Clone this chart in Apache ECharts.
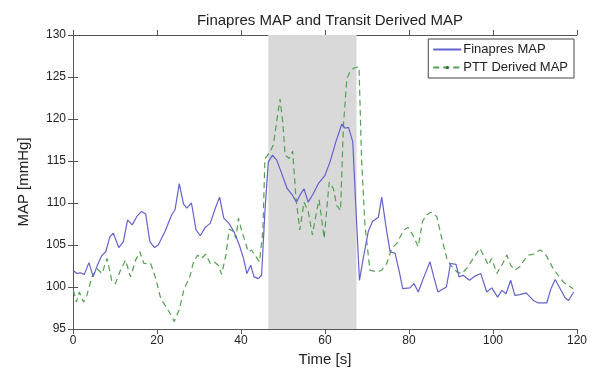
<!DOCTYPE html>
<html>
<head>
<meta charset="UTF-8">
<script src="https://cdn.jsdelivr.net/npm/echarts@6/dist/echarts.min.js"></script>
<title>Finapres MAP and Transit Derived MAP</title>
<style>
  html, body { margin: 0; padding: 0; background: #fff; }
  #main { width: 593px; height: 374px; }
</style>
</head>
<body>
<div id="main"></div>
<script type="text/javascript">
    // Finapres MAP (blue, solid) - time [s] / value [mmHg]
    var finTime = [0, 0.9, 1.7, 2.7, 3.8, 4.8, 5.8, 6.8, 7.8, 8.8, 9.6, 10.9, 12.0, 13.0, 14.1, 15.2, 16.3, 17.3, 18.3, 19.4,
        20.3, 21.9, 23.5, 24.3, 25.3, 26.3, 27.1, 28.2, 29.3, 30.3, 31.5, 32.7, 33.9, 34.9, 35.9, 37.1, 38.3, 39.6, 40.6, 41.4,
        42.3, 43.1, 44.1, 44.9, 45.7, 46.5, 47.5, 48.5, 49.7, 51.0, 52.3, 53.2, 54.0, 55.0, 56.0, 57.2, 58.4, 60.0, 61.2, 62.6,
        64.0, 64.8, 65.6, 66.6, 67.4, 68.2, 69.1, 70.3, 71.3, 72.7, 73.5, 74.7, 75.5, 76.7, 77.7, 78.5, 80.2, 81.2, 82.2, 83.4,
        85.0, 85.9, 86.9, 88.9, 89.9, 91.2, 91.9, 92.9, 94.4, 95.7, 97.1, 98.5, 99.7, 101.1, 102.1, 103.1, 104.2, 105.2, 106.4, 107.9,
        109.6, 110.8, 112.8, 113.8, 114.8, 116.0, 117.2, 118.0, 119.2];
    var finMap = [102.0, 101.6, 101.7, 101.5, 102.9, 101.2, 102.6, 103.7, 104.2, 106.0, 106.4, 104.7, 105.4, 108.0, 107.4, 108.4, 109.0, 108.7, 105.4, 104.7,
        105.0, 106.6, 108.6, 109.2, 112.3, 109.9, 109.4, 110.0, 106.8, 106.1, 107.1, 107.6, 109.4, 110.7, 108.2, 107.6, 106.6, 105.0, 103.4, 101.6,
        102.6, 101.2, 101.0, 101.4, 109.0, 114.9, 115.7, 115.1, 113.5, 111.7, 110.9, 110.1, 110.9, 111.7, 110.1, 111.1, 112.3, 113.3, 114.9, 117.3,
        119.4, 118.9, 119.0, 117.3, 109.0, 100.8, 103.4, 106.6, 107.8, 108.3, 110.7, 106.6, 104.2, 104.0, 101.8, 99.8, 99.9, 100.4, 99.4, 101.0,
        103.0, 101.2, 99.4, 100.0, 102.8, 102.7, 101.2, 101.4, 100.8, 101.3, 101.6, 99.4, 99.9, 98.8, 99.6, 99.2, 100.8, 99.0, 99.1, 99.3,
        98.4, 98.1, 98.1, 99.8, 100.9, 99.8, 98.7, 98.4, 99.4];

    // PTT Derived MAP (green, dashed)
    var pttTime = [0.1, 0.8, 1.5, 2.5, 3.3, 4.5, 5.7, 6.9, 8.1, 9.3, 10.1, 11.3, 12.5, 13.7, 14.9, 15.9, 16.9, 18.5, 19.7, 20.9,
        22.1, 23.3, 24.1, 25.3, 26.5, 27.7, 28.7, 29.7, 30.6, 31.6, 32.7, 33.6, 34.6, 35.4, 36.4, 37.2, 38.2, 38.8, 39.4, 40.2,
        41.0, 41.7, 42.5, 43.3, 44.4, 45.2, 45.7, 46.7, 47.7, 48.5, 49.3, 50.0, 50.5, 51.5, 52.3, 53.1, 54.0, 55.0, 56.0, 57.0,
        58.0, 58.6, 59.8, 61.0, 62.0, 62.8, 63.7, 64.4, 65.2, 66.1, 67.1, 68.1, 68.7, 69.5, 70.7, 72.3, 73.5, 74.7, 75.9, 77.1,
        78.8, 79.8, 80.9, 82.2, 83.2, 84.2, 85.2, 86.6, 87.8, 89.0, 89.9, 91.4, 92.6, 93.7, 95.3, 96.9, 98.1, 98.9, 99.7, 100.9,
        102.1, 103.3, 104.2, 105.2, 106.4, 107.4, 108.4, 109.6, 111.2, 112.4, 113.5, 114.3, 115.5, 116.7, 117.9, 119.1];
    var pttMap = [99.6, 98.2, 99.4, 98.2, 99.0, 101.2, 102.2, 101.6, 103.4, 100.6, 100.4, 102.0, 103.2, 101.2, 103.2, 104.2, 102.8, 102.8, 101.0, 98.6,
        97.7, 96.7, 95.9, 97.3, 99.9, 101.0, 103.0, 103.8, 103.4, 103.9, 102.8, 103.0, 102.6, 101.5, 103.8, 106.9, 106.6, 105.8, 108.2, 106.6,
        105.4, 104.2, 104.4, 103.8, 103.0, 106.6, 115.3, 115.9, 116.9, 119.7, 122.4, 119.3, 115.7, 115.3, 116.2, 110.5, 106.8, 110.1, 109.0, 106.2,
        109.0, 110.4, 105.8, 112.5, 111.7, 109.7, 109.1, 119.3, 124.8, 125.8, 126.1, 126.2, 115.3, 107.4, 102.0, 101.8, 102.0, 102.8, 104.6, 105.2,
        106.8, 107.1, 106.2, 104.8, 107.8, 108.6, 108.9, 108.4, 105.8, 103.4, 102.6, 101.8, 101.6, 102.2, 103.4, 104.6, 103.4, 102.6, 103.4, 101.6,
        102.6, 103.8, 102.6, 102.0, 102.4, 103.2, 103.8, 103.9, 104.4, 104.0, 103.0, 102.2, 101.4, 100.6, 100.2, 99.8];

    // shaded interval [s]
    var shadeRange = [46.5, 67.5];

    function pairs(t, v) {
        var out = [];
        for (var i = 0; i < t.length; i++) { out.push([t[i], v[i]]); }
        return out;
    }

    var axisCol = '#555';
    var txtCol = '#222';
    var fontFam = 'Liberation Sans, Arial, sans-serif';

    var myChart = echarts.init(document.getElementById('main'));
    myChart.setOption({
        animation: false,
        backgroundColor: '#fff',
        title: {
            text: 'Finapres MAP and Transit Derived MAP',
            left: 325, top: 8, textAlign: 'center',
            textStyle: { fontSize: 15, fontWeight: 'normal', color: txtCol, fontFamily: fontFam }
        },
        legend: {
            top: 39, right: 19,
            orient: 'vertical',
            align: 'left',
            itemGap: 5,
            itemWidth: 28, itemHeight: 4,
            padding: [4, 6, 4, 4],
            borderColor: '#444', borderWidth: 1,
            backgroundColor: '#fff',
            textStyle: { fontSize: 13, color: txtCol, fontFamily: fontFam, padding: [0, 0, 0, -3] },
            data: [
                // line only, no marker for the Finapres entry
                { name: 'Finapres MAP', itemStyle: { color: 'rgba(0,0,0,0)', borderWidth: 0 } },
                { name: 'PTT Derived MAP' }
            ]
        },
        grid: { left: 73, right: 16, top: 35, bottom: 45 },
        xAxis: [
            {
                type: 'value', min: 0, max: 120, interval: 20,
                name: 'Time [s]', nameLocation: 'middle', nameGap: 19,
                nameTextStyle: { fontSize: 15, color: txtCol, fontFamily: fontFam },
                axisLine: { lineStyle: { color: axisCol } },
                axisTick: { show: true, length: 5, lineStyle: { color: axisCol } },
                axisLabel: { fontSize: 12, color: txtCol, fontFamily: fontFam, margin: 6 },
                splitLine: { show: false }
            },
            {
                type: 'value', min: 0, max: 120, interval: 20, position: 'top',
                axisLine: { show: true, lineStyle: { color: axisCol } },
                axisTick: { show: true, length: 5, lineStyle: { color: axisCol } },
                axisLabel: { show: false },
                splitLine: { show: false }
            }
        ],
        yAxis: [
            {
                type: 'value', min: 95, max: 130, interval: 5,
                name: 'MAP [mmHg]', nameLocation: 'middle', nameGap: 42, nameRotate: 90,
                nameTextStyle: { fontSize: 15, color: txtCol, fontFamily: fontFam },
                axisLine: { show: true, lineStyle: { color: axisCol } },
                axisTick: { show: true, length: 5, lineStyle: { color: axisCol } },
                axisLabel: { fontSize: 12, color: txtCol, fontFamily: fontFam, margin: 7 },
                splitLine: { show: false }
            },
            {
                type: 'value', min: 95, max: 130, interval: 5, position: 'right',
                axisLine: { show: true, lineStyle: { color: axisCol } },
                axisTick: { show: true, length: 5, lineStyle: { color: axisCol } },
                axisLabel: { show: false },
                splitLine: { show: false }
            }
        ],
        series: [
            {
                name: 'Finapres MAP',
                type: 'line',
                data: pairs(finTime, finMap),
                symbol: 'none',
                z: 3,
                lineStyle: { color: '#6262cc', width: 1.2 },
                itemStyle: { color: '#6262cc' },
                markArea: {
                    silent: true,
                    itemStyle: { color: '#d9d9d9' },
                    data: [[{ xAxis: shadeRange[0], yAxis: 95 }, { xAxis: shadeRange[1], yAxis: 130 }]]
                }
            },
            {
                name: 'PTT Derived MAP',
                type: 'line',
                data: pairs(pttTime, pttMap),
                symbol: 'circle', symbolSize: 2, showSymbol: false,
                z: 2,
                lineStyle: { color: '#52a052', width: 1.2, type: [6, 4] },
                itemStyle: { color: '#2f6f2f' }
            }
        ]
    });
</script>
</body>
</html>
